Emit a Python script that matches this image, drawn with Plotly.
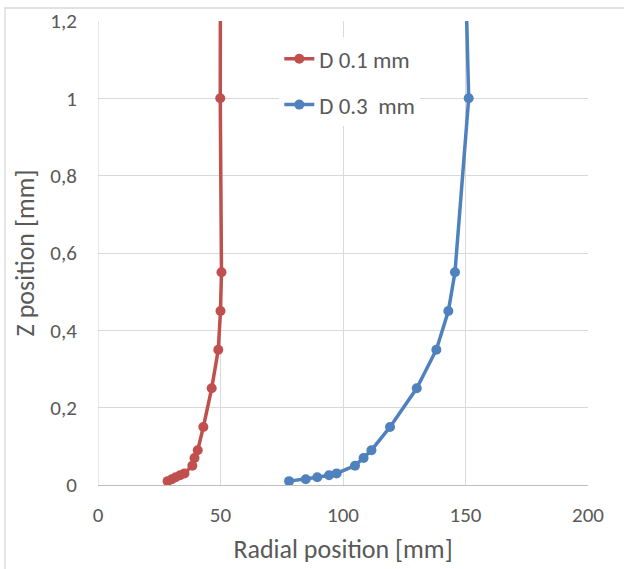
import plotly.graph_objects as go

# Measured profiles: Z position vs radial position
z_pos = [0.01, 0.015, 0.02, 0.025, 0.03, 0.05, 0.07, 0.09, 0.15, 0.25, 0.35, 0.45, 0.55, 1.0, 1.5]
r_d01 = [28.4, 30.1, 31.7, 33.5, 35.3, 38.5, 39.4, 40.7, 43.0, 46.4, 49.1, 50.0, 50.4, 49.9, 50.0]
r_d03 = [78.0, 84.8, 89.5, 94.3, 97.4, 104.9, 108.4, 111.6, 119.2, 130.1, 138.1, 143.0, 145.7, 151.3, 149.3]

series_names = ["D 0.1 mm", "D 0.3  mm"]
series_colors = ["#c0504d", "#4f81bd"]

x_ticks = [0, 50, 100, 150, 200]
y_ticks = [0, 0.2, 0.4, 0.6, 0.8, 1.0, 1.2]
y_tick_text = ["0", "0,2", "0,4", "0,6", "0,8", "1", "1,2"]

FONT = "Carlito, Calibri, Lato, sans-serif"
TXT = "#595959"
GRID = "#d9d9d9"

fig = go.Figure()
for i, (name, r) in enumerate(zip(series_names, [r_d01, r_d03])):
    fig.add_trace(go.Scatter(
        x=r, y=z_pos, mode="lines+markers", name=name,
        legendgroup=f"g{i}",
        line=dict(color=series_colors[i], width=3.5),
        marker=dict(color=series_colors[i], size=10),
        cliponaxis=True,
    ))

W, H = 624, 569
L, R, T, B = 98, 36, 21, 84

fig.update_layout(
    width=W, height=H,
    margin=dict(l=L, r=R, t=T, b=B),
    paper_bgcolor="white", plot_bgcolor="white",
    font=dict(family=FONT, size=22, color=TXT),
    showlegend=True,
    legend=dict(
        x=0.37, y=0.965, xanchor="left", yanchor="top",
        bgcolor="white", borderwidth=0,
        font=dict(family=FONT, size=23, color=TXT),
        traceorder="grouped", tracegroupgap=13,
    ),
    xaxis=dict(
        range=[0, 200], tickvals=x_ticks, showgrid=True, gridcolor=GRID, gridwidth=1.3,
        zeroline=False, showline=True, linecolor="#bfbfbf", linewidth=1.3,
        ticks="outside", ticklen=11, tickcolor="rgba(0,0,0,0)",
        tickfont=dict(family=FONT, size=21, color=TXT), automargin=False,
        title=dict(text="Radial position [mm]", font=dict(family=FONT, size=26, color=TXT), standoff=12),
        mirror=False,
    ),
    yaxis=dict(
        range=[0, 1.2], tickvals=y_ticks, ticktext=y_tick_text, showgrid=True,
        gridcolor=GRID, gridwidth=1.3, zeroline=False, showline=False,
        ticks="outside", ticklen=16, tickcolor="rgba(0,0,0,0)",
        tickfont=dict(family=FONT, size=21, color=TXT), automargin=False,
        title=dict(text="Z position [mm]", font=dict(family=FONT, size=26, color=TXT), standoff=8),
    ),
)

# Vertical gridline at x = 0 and the light chart-area border
fig.add_shape(type="line", xref="x", yref="paper", x0=0, x1=0, y0=0, y1=1,
              line=dict(color=GRID, width=1.3), layer="below")
pw, ph = W - L - R, H - T - B
fig.add_shape(type="rect", xref="paper", yref="paper",
              x0=(5 - L) / pw, x1=(W + 20 - L) / pw,
              y0=(H - B - (H + 20)) / ph, y1=(H - B - 8) / ph,
              line=dict(color="#d9d9d9", width=1.3), fillcolor="rgba(0,0,0,0)", layer="below")

fig.write_html("out.html")
